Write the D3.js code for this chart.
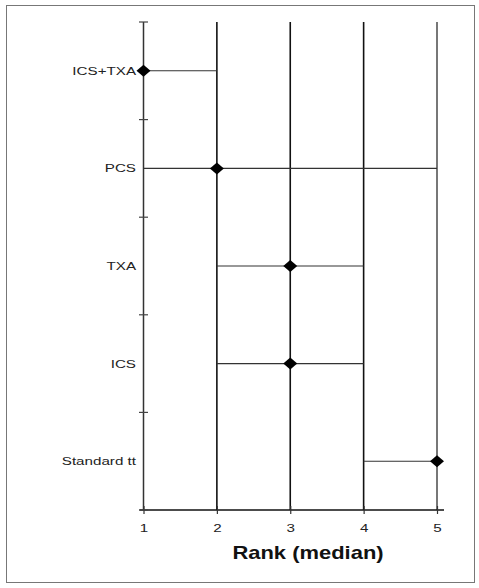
<!DOCTYPE html>
<html>
<head>
<meta charset="utf-8">
<script src="https://cdn.jsdelivr.net/npm/d3@7"></script>
<style>
  html, body { margin: 0; padding: 0; background: #fff; }
  svg { display: block; }
  text { font-family: "Liberation Sans", Arial, sans-serif; }
</style>
</head>
<body>
<svg id="chart" width="479" height="588"></svg>
<script>
// ---- data ----
const treatments = ["ICS+TXA", "PCS", "TXA", "ICS", "Standard tt"];
const medianRank = [1, 2, 3, 3, 5];
const lowRank = [1, 1, 2, 2, 4];
const highRank = [2, 5, 4, 4, 5];
const xTicks = [1, 2, 3, 4, 5];
const gridRanks = [2, 3, 4, 5];
const xTitle = "Rank (median)";

// ---- layout ----
const svg = d3.select("#chart");
const pLeft = 143.5, pRight = 437, pTop = 22, pBottom = 510;
const sx = 1.32; // horizontal text stretch seen in the reference

const x = d3.scaleLinear().domain([1, 5]).range([pLeft, pRight]);
const y = d3.scaleBand().domain(treatments).range([pTop, pBottom]).paddingInner(0).paddingOuter(0);

// outer frame
svg.append("rect")
  .attr("x", 6.5).attr("y", 5.5)
  .attr("width", 468).attr("height", 577)
  .attr("fill", "none").attr("stroke", "#777").attr("stroke-width", 1);

// vertical reference lines at ranks 2..5
svg.append("g").selectAll("line").data(gridRanks).join("line")
  .attr("x1", d => x(d)).attr("x2", d => x(d))
  .attr("y1", pTop).attr("y2", pBottom)
  .attr("stroke", d => d === 5 ? "#555" : "#111")
  .attr("stroke-width", 1.6);

// x axis
const xAxisG = svg.append("g").attr("transform", `translate(0,${pBottom})`)
  .call(d3.axisBottom(x).tickValues(xTicks).tickSize(4).tickSizeOuter(0).tickFormat(d3.format("d")));
xAxisG.select(".domain").attr("d", `M${pLeft - 4},0H${pRight + 7}`).attr("stroke", "#111").attr("stroke-width", 1.3);
xAxisG.selectAll(".tick line").attr("y1", -4).attr("y2", 4).attr("stroke", "#333").attr("stroke-width", 1.2);
xAxisG.selectAll(".tick text")
  .attr("y", 0).attr("dy", 0)
  .attr("transform", `translate(0,22) scale(${sx},1)`)
  .attr("font-size", 11.5).attr("fill", "#222");

// y axis line
svg.append("line")
  .attr("x1", pLeft).attr("x2", pLeft).attr("y1", pTop).attr("y2", pBottom)
  .attr("stroke", "#333").attr("stroke-width", 1.5);

// y axis ticks at band boundaries
const yBounds = treatments.map(t => y(t)).concat([y(treatments[treatments.length - 1]) + y.bandwidth()]);
svg.append("g").selectAll("line").data(yBounds).join("line")
  .attr("x1", pLeft - 4.5).attr("x2", pLeft + 4.5)
  .attr("y1", d => d).attr("y2", d => d)
  .attr("stroke", "#444").attr("stroke-width", 1.2);

// y labels
svg.append("g").selectAll("text").data(treatments).join("text")
  .attr("transform", d => `translate(136,${y(d) + y.bandwidth() / 2 + 4}) scale(${sx},1)`)
  .attr("text-anchor", "end")
  .attr("font-size", 11.5).attr("fill", "#222")
  .text(d => d);

// range lines
const rows = treatments.map((t, i) => ({ t, med: medianRank[i], lo: lowRank[i], hi: highRank[i] }));
svg.append("g").selectAll("line").data(rows).join("line")
  .attr("x1", d => x(d.lo)).attr("x2", d => x(d.hi))
  .attr("y1", d => y(d.t) + y.bandwidth() / 2).attr("y2", d => y(d.t) + y.bandwidth() / 2)
  .attr("stroke", "#333").attr("stroke-width", 1.1);

// median diamonds
svg.append("g").selectAll("path").data(rows).join("path")
  .attr("transform", d => `translate(${x(d.med)},${y(d.t) + y.bandwidth() / 2})`)
  .attr("d", "M0,-6L7,0L0,6L-7,0Z")
  .attr("fill", "#000");

// x title
svg.append("text")
  .attr("transform", `translate(308,559) scale(1.22,1)`)
  .attr("text-anchor", "middle")
  .attr("font-size", 18).attr("font-weight", "bold").attr("fill", "#111")
  .text(xTitle);
</script>
</body>
</html>
